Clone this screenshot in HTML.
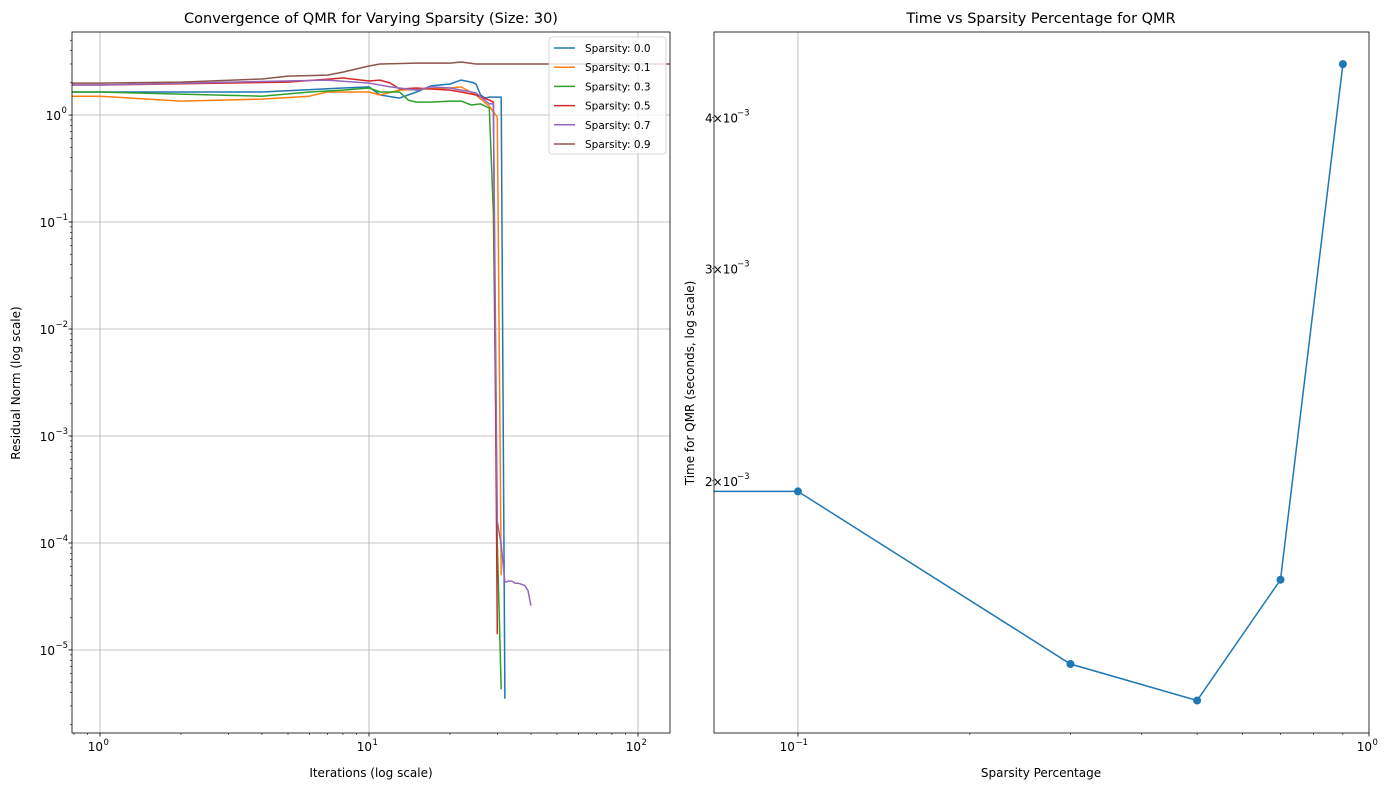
<!DOCTYPE html>
<html><head><meta charset="utf-8"><style>
body{margin:0;background:#fff;font-family:"Liberation Sans","DejaVu Sans",sans-serif}
svg text{font-family:"DejaVu Sans","Liberation Sans",sans-serif}
</style></head><body>
<svg id="c" width="1389" height="790" xmlns="http://www.w3.org/2000/svg">
<rect width="1389" height="790" fill="#fff"/>
<g id="L"></g>
<g id="R"></g>
</svg>
<script>
const seriesNames=["Sparsity: 0.0","Sparsity: 0.1","Sparsity: 0.3","Sparsity: 0.5","Sparsity: 0.7","Sparsity: 0.9"];
const seriesColors=["#1f77b4","#ff7f0e","#2ca02c","#d62728","#9467bd","#8c564b"];
const iters0=[0,1,4,8,10,11,13,15,17,20,22,24,25,26,27,28,30,31,32];
const vals0=[1.64,1.64,1.64,1.79,1.83,1.54,1.44,1.64,1.87,1.95,2.12,2.03,1.95,1.54,1.44,1.47,1.47,1.47,3.5e-6];
const iters1=[0,1,2,4,6,7,10,11,13,20,22,25,28,29,30,31];
const vals1=[1.5,1.5,1.35,1.41,1.5,1.64,1.64,1.54,1.71,1.79,1.83,1.54,1.21,1.07,0.96,5e-5];
const iters2=[0,1,4,6,8,10,11,13,14,15,17,20,22,24,26,28,29,30,31];
const vals2=[1.64,1.64,1.5,1.64,1.71,1.79,1.64,1.64,1.38,1.32,1.32,1.35,1.35,1.24,1.27,1.16,0.12,1e-4,4.3e-6];
const iters3=[0,1,5,8,10,11,12,13,15,17,20,22,25,28,29,30];
const vals3=[1.91,1.91,2.03,2.22,2.08,2.12,1.99,1.75,1.79,1.75,1.71,1.64,1.54,1.38,1.32,1.4e-5];
const iters4=[0,1,7,10,12,15,17,20,22,25,28,29,30,31,32,33,34,35,36,37,38,39,40];
const vals4=[1.91,1.91,2.12,1.99,1.83,1.71,1.83,1.79,1.71,1.61,1.27,1.27,1.6e-4,9.6e-5,4.3e-5,4.4e-5,4.4e-5,4.2e-5,4.2e-5,4.1e-5,4.0e-5,3.6e-5,2.6e-5];
const iters5=[0,1,2,4,5,7,8,10,11,15,20,22,25,30,60,150];
const vals5=[1.99,1.99,2.03,2.17,2.31,2.36,2.52,2.87,3.0,3.06,3.06,3.13,3.0,3.0,3.0,3.0];
const seriesIters=[iters0,iters1,iters2,iters3,iters4,iters5];
const seriesVals=[vals0,vals1,vals2,vals3,vals4,vals5];
const timeX=[0.0,0.1,0.3,0.5,0.7,0.9];
const timeY=[1.96e-3,1.96e-3,1.41e-3,1.315e-3,1.656e-3,4.43e-3];
const leftXTicks=[1,10,100];
const leftXTickExp=["0","1","2"];
const leftYTicks=[1,0.1,0.01,0.001,1e-4,1e-5];
const leftYExp=["0","−1","−2","−3","−4","−5"];
const rightYTicks=[2e-3,3e-3,4e-3];
const rightYMant=["2","3","4"];
const rightXTicks=[0.1,1];
const rightXExp=["−1","0"];

const NS="http://www.w3.org/2000/svg";
function mk(p,t,a){const e=document.createElementNS(NS,t);for(const k in a)e.setAttribute(k,a[k]);p.appendChild(e);return e;}
const lg=Math.log10;
const L=document.getElementById('L');
const lx0=72,lx1=670,ly0=32,ly1=733;
const lxmin=lg(0.787),lxmax=2.119,lymax=0.776,lymin=-5.776;
const LX=v=>v<=0?lx0:lx0+(lg(v)-lxmin)/(lxmax-lxmin)*(lx1-lx0);
const LY=v=>ly0+(lymax-lg(v))/(lymax-lymin)*(ly1-ly0);
leftXTicks.forEach(t=>{const g=mk(L,'line',{x1:LX(t),x2:LX(t),y1:ly0,y2:ly1,stroke:'#b0b0b0','stroke-width':0.8});});
leftYTicks.forEach(t=>{const g=mk(L,'line',{x1:lx0,x2:lx1,y1:LY(t),y2:LY(t),stroke:'#b0b0b0','stroke-width':0.8});});
for(let d=-6;d<=2;d++)for(let m=2;m<=9;m++){const v=m*Math.pow(10,d);
 if(lg(v)>lxmin&&lg(v)<lxmax){mk(L,'line',{x1:LX(v),x2:LX(v),y1:ly1,y2:ly1+2,stroke:'#000','stroke-width':0.6});}
 if(lg(v)>lymin&&lg(v)<lymax){mk(L,'line',{x1:lx0-2,x2:lx0,y1:LY(v),y2:LY(v),stroke:'#000','stroke-width':0.6});}}
leftXTicks.forEach((t,i)=>{mk(L,'line',{x1:LX(t),x2:LX(t),y1:ly1,y2:ly1+3.5,stroke:'#000','stroke-width':0.8});
 const tx=mk(L,'text',{x:LX(t)+3,y:ly1+18,'font-size':12,'text-anchor':'end'});tx.textContent='10';
 const s=mk(L,'text',{x:LX(t)+3.5,y:ly1+12,'font-size':8.5,'text-anchor':'start'});s.textContent=leftXTickExp[i];
 });
leftYTicks.forEach((t,i)=>{mk(L,'line',{x1:lx0-3.5,x2:lx0,y1:LY(t),y2:LY(t),stroke:'#000','stroke-width':0.8});
 const w=leftYExp[i].length>1?11:5;
 const tx=mk(L,'text',{x:lx0-6-w,y:LY(t)+5,'font-size':12,'text-anchor':'end'});tx.textContent='10';
 const s=mk(L,'text',{x:lx0-6-w+0.5,y:LY(t)-2,'font-size':8.5,'text-anchor':'start'});s.textContent=leftYExp[i];
 });
const defs=mk(document.getElementById('c'),'defs',{});
const cp=mk(defs,'clipPath',{id:'cl'});mk(cp,'rect',{x:lx0,y:ly0,width:lx1-lx0,height:ly1-ly0});
seriesIters.forEach((its,k)=>{const pts=its.map((x,i)=>LX(x).toFixed(1)+','+LY(seriesVals[k][i]).toFixed(1)).join(' ');
 const p=mk(L,'polyline',{points:pts,fill:'none',stroke:seriesColors[k],'stroke-width':1.5,'clip-path':'url(#cl)','stroke-linejoin':'round'});
 });
mk(L,'rect',{x:lx0,y:ly0,width:lx1-lx0,height:ly1-ly0,fill:'none',stroke:'#000','stroke-width':0.8});
const leg=mk(L,'g',{});
mk(leg,'rect',{x:549,y:37,width:117,height:117,rx:3,fill:'#fff','fill-opacity':0.8,stroke:'#ccc','stroke-width':0.8});
seriesNames.forEach((n,k)=>{const y=48+k*19.2;mk(leg,'line',{x1:554,x2:575,y1:y,y2:y,stroke:seriesColors[k],'stroke-width':1.5});
 const t=mk(leg,'text',{x:585,y:y+4,'font-size':10.5});t.textContent=n;});
let t;
t=mk(L,'text',{x:371,y:23,'font-size':14.5,'text-anchor':'middle'});t.textContent='Convergence of QMR for Varying Sparsity (Size: 30)';
t=mk(L,'text',{x:371,y:777,'font-size':12,'text-anchor':'middle'});t.textContent='Iterations (log scale)';
t=mk(L,'text',{x:0,y:0,'font-size':12,'text-anchor':'middle',transform:'translate(20,383) rotate(-90)'});t.textContent='Residual Norm (log scale)';

const R=document.getElementById('R');
const rx0=714,rx1=1369,ry0=32,ry1=733;
const rxmin=-1.147,rxmax=0,rymax=lg(4.71e-3),rymin=lg(1.236e-3);
const RX=v=>v<=0?rx0:rx0+(lg(v)-rxmin)/(rxmax-rxmin)*(rx1-rx0);
const RY=v=>ry0+(rymax-lg(v))/(rymax-rymin)*(ry1-ry0);
rightXTicks.forEach((tk,i)=>{if(tk<1){const g=mk(R,'line',{x1:RX(tk),x2:RX(tk),y1:ry0,y2:ry1,stroke:'#b0b0b0','stroke-width':0.8});}
 mk(R,'line',{x1:RX(tk),x2:RX(tk),y1:ry1,y2:ry1+3.5,stroke:'#000','stroke-width':0.8});
 const off=rightXExp[i].length>1?-3:3;
 const tx=mk(R,'text',{x:RX(tk)+off,y:ry1+18,'font-size':12,'text-anchor':'end'});tx.textContent='10';
 const s=mk(R,'text',{x:RX(tk)+off+0.5,y:ry1+12,'font-size':8.5});s.textContent=rightXExp[i];
 });
for(let m=2;m<=9;m++){const v=m/10;mk(R,'line',{x1:RX(v),x2:RX(v),y1:ry1,y2:ry1+2,stroke:'#000','stroke-width':0.6});}
for(let m=2;m<=4;m++){const v=m*1e-3;mk(R,'line',{x1:rx0-2,x2:rx0,y1:RY(v),y2:RY(v),stroke:'#000','stroke-width':0.6});}
rightYTicks.forEach((tk,i)=>{const y=RY(tk);
 const tx=mk(R,'text',{x:705,y:y+5,'font-size':12,'text-anchor':'start'});tx.textContent=rightYMant[i]+'×10';
 const s=mk(R,'text',{x:737,y:y-2,'font-size':8.5});s.textContent='−3';
 });
const cp2=mk(defs,'clipPath',{id:'cr'});mk(cp2,'rect',{x:rx0,y:ry0,width:rx1-rx0,height:ry1-ry0});
const tp=timeX.map((x,i)=>RX(x).toFixed(1)+','+RY(timeY[i]).toFixed(1)).join(' ');
const pl=mk(R,'polyline',{points:tp,fill:'none',stroke:'#1f77b4','stroke-width':1.5,'clip-path':'url(#cr)'});

timeX.forEach((x,i)=>{if(x>0){const c=mk(R,'circle',{cx:RX(x),cy:RY(timeY[i]),r:4,fill:'#1f77b4'});}});
mk(R,'rect',{x:rx0,y:ry0,width:rx1-rx0,height:ry1-ry0,fill:'none',stroke:'#000','stroke-width':0.8});
t=mk(R,'text',{x:1041,y:23,'font-size':14.5,'text-anchor':'middle'});t.textContent='Time vs Sparsity Percentage for QMR';
t=mk(R,'text',{x:1041,y:777,'font-size':12,'text-anchor':'middle'});t.textContent='Sparsity Percentage';
t=mk(R,'text',{x:0,y:0,'font-size':12,'text-anchor':'middle',transform:'translate(694,383) rotate(-90)'});t.textContent='Time for QMR (seconds, log scale)';
</script>
</body></html>
